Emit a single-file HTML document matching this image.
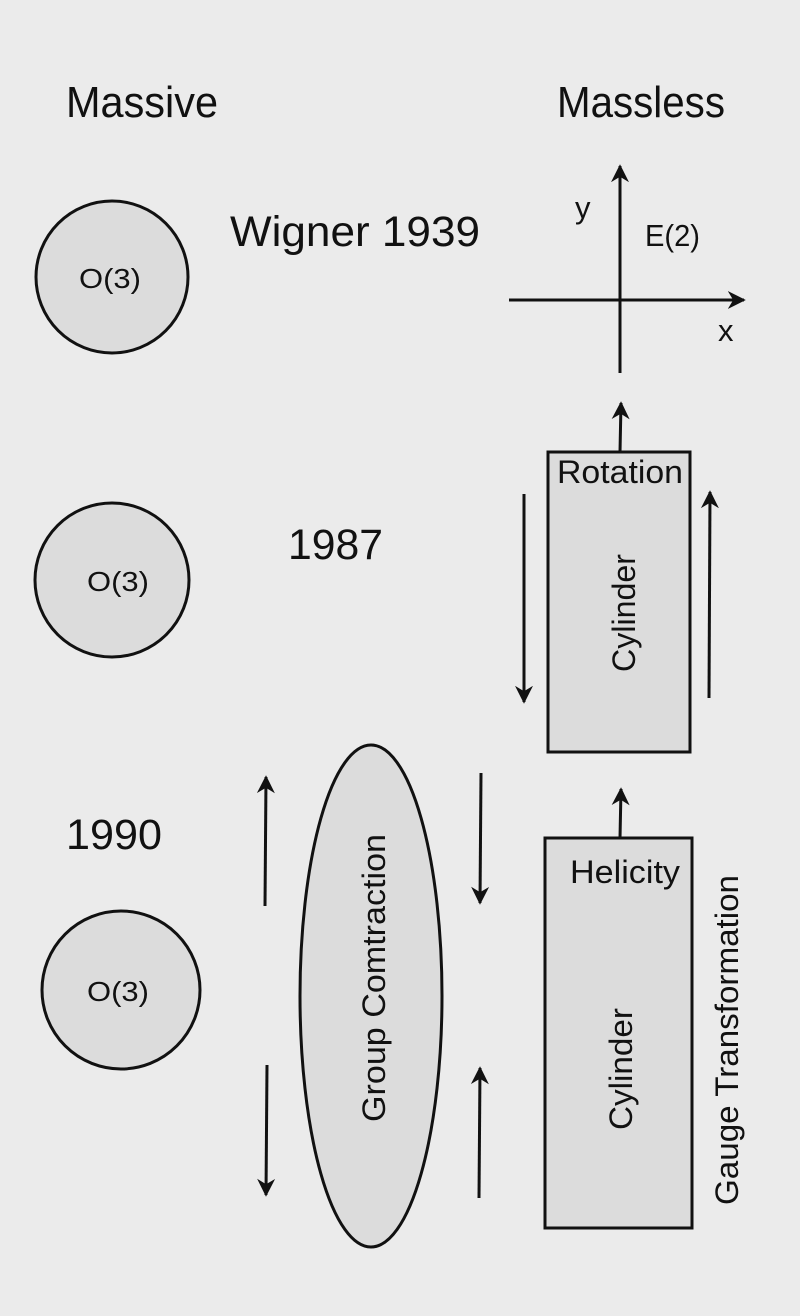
<!DOCTYPE html>
<html><head><meta charset="utf-8"><style>
html,body{margin:0;padding:0;background:#ebebeb;}
svg{display:block;}
text{font-family:"Liberation Sans",sans-serif;fill:#111;}
</style></head><body>
<svg width="800" height="1316" viewBox="0 0 800 1316" xmlns="http://www.w3.org/2000/svg">
<defs>
<marker id="a" viewBox="0 0 10 10" refX="9" refY="5" markerWidth="6" markerHeight="6" orient="auto" markerUnits="strokeWidth">
<path d="M0,0 L10,5 L0,10 L3,5 z" fill="#111"/>
</marker>
</defs>
<rect width="800" height="1316" fill="#ebebeb"/>
<text x="66" y="117" font-size="44" textLength="152" lengthAdjust="spacingAndGlyphs">Massive</text>
<text x="557" y="117" font-size="44" textLength="168" lengthAdjust="spacingAndGlyphs">Massless</text>

<circle cx="112" cy="277" r="76" fill="#dcdcdc" stroke="#111" stroke-width="3"/>
<text x="110" y="288" font-size="28" text-anchor="middle" textLength="62" lengthAdjust="spacingAndGlyphs">O(3)</text>
<text x="230" y="246" font-size="43" textLength="250" lengthAdjust="spacingAndGlyphs">Wigner 1939</text>

<circle cx="112" cy="580" r="77" fill="#dcdcdc" stroke="#111" stroke-width="3"/>
<text x="118" y="591" font-size="28" text-anchor="middle" textLength="62" lengthAdjust="spacingAndGlyphs">O(3)</text>
<text x="288" y="559" font-size="43" textLength="95" lengthAdjust="spacingAndGlyphs">1987</text>

<text x="66" y="849" font-size="43" textLength="96" lengthAdjust="spacingAndGlyphs">1990</text>
<circle cx="121" cy="990" r="79" fill="#dcdcdc" stroke="#111" stroke-width="3"/>
<text x="118" y="1001" font-size="28" text-anchor="middle" textLength="62" lengthAdjust="spacingAndGlyphs">O(3)</text>

<line x1="620" y1="373" x2="620" y2="166" stroke="#111" stroke-width="3" marker-end="url(#a)"/>
<line x1="509" y1="300" x2="744" y2="300" stroke="#111" stroke-width="3" marker-end="url(#a)"/>
<text x="575" y="218" font-size="31">y</text>
<text x="645" y="246" font-size="31" textLength="55" lengthAdjust="spacingAndGlyphs">E(2)</text>
<text x="718" y="341" font-size="31">x</text>

<line x1="620" y1="452" x2="621" y2="403" stroke="#111" stroke-width="3" marker-end="url(#a)"/>
<rect x="548" y="452" width="142" height="300" fill="#dcdcdc" stroke="#111" stroke-width="3"/>
<text x="620" y="483" font-size="32" text-anchor="middle" textLength="126" lengthAdjust="spacingAndGlyphs">Rotation</text>
<text transform="translate(635,613) rotate(-90)" font-size="32" text-anchor="middle" textLength="118" lengthAdjust="spacingAndGlyphs">Cylinder</text>
<line x1="524" y1="494" x2="524" y2="702" stroke="#111" stroke-width="3" marker-end="url(#a)"/>
<line x1="709" y1="698" x2="710" y2="492" stroke="#111" stroke-width="3" marker-end="url(#a)"/>

<line x1="620" y1="838" x2="621" y2="789" stroke="#111" stroke-width="3" marker-end="url(#a)"/>
<rect x="545" y="838" width="147" height="390" fill="#dcdcdc" stroke="#111" stroke-width="3"/>
<text x="625" y="883" font-size="32" text-anchor="middle" textLength="110" lengthAdjust="spacingAndGlyphs">Helicity</text>
<text transform="translate(632,1069) rotate(-90)" font-size="32" text-anchor="middle" textLength="122" lengthAdjust="spacingAndGlyphs">Cylinder</text>
<text transform="translate(738,1040) rotate(-90)" font-size="32" text-anchor="middle" textLength="330" lengthAdjust="spacingAndGlyphs">Gauge Transformation</text>

<ellipse cx="371" cy="996" rx="71" ry="251" fill="#dcdcdc" stroke="#111" stroke-width="3"/>
<text transform="translate(385,978) rotate(-90)" font-size="32" text-anchor="middle" textLength="288" lengthAdjust="spacingAndGlyphs">Group Comtraction</text>

<line x1="265" y1="906" x2="266" y2="777" stroke="#111" stroke-width="3" marker-end="url(#a)"/>
<line x1="267" y1="1065" x2="266" y2="1195" stroke="#111" stroke-width="3" marker-end="url(#a)"/>
<line x1="481" y1="773" x2="480" y2="903" stroke="#111" stroke-width="3" marker-end="url(#a)"/>
<line x1="479" y1="1198" x2="480" y2="1068" stroke="#111" stroke-width="3" marker-end="url(#a)"/>
</svg>
</body></html>
